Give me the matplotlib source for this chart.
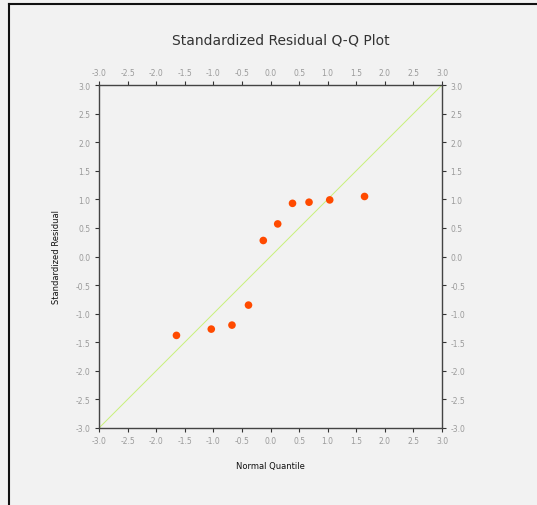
import matplotlib
matplotlib.use('Agg')
import matplotlib.pyplot as plt
from matplotlib.lines import Line2D

# --- data ---
normal_quantile = [-1.645, -1.036, -0.674, -0.385, -0.126, 0.126, 0.385, 0.674, 1.036, 1.645]
std_residual = [-1.38, -1.27, -1.20, -0.85, 0.28, 0.57, 0.93, 0.95, 0.99, 1.05]
ref_line = [-3.0, 3.0]
tick_values = [-3.0, -2.5, -2.0, -1.5, -1.0, -0.5, 0.0, 0.5, 1.0, 1.5, 2.0, 2.5, 3.0]

bg = '#f2f2f2'
fig = plt.figure(figsize=(5.37, 5.06), dpi=100, facecolor=bg)
ax = fig.add_axes([99 / 537, 1 - 429 / 506, 343 / 537, 343 / 506], facecolor=bg)

# reference diagonal and points
ax.plot(ref_line, ref_line, color='#c8f07a', lw=0.7, zorder=1)
ax.scatter(normal_quantile, std_residual, s=30, color='#ff4a00', zorder=3, edgecolors='none')

ax.set_xlim(-3, 3)
ax.set_ylim(-3, 3)
ax.set_xticks(tick_values)
ax.set_yticks(tick_values)
ax.set_xticklabels([f'{v:.1f}' for v in tick_values])
ax.set_yticklabels([f'{v:.1f}' for v in tick_values])

for s in ax.spines.values():
    s.set_color('#444444')
    s.set_linewidth(1.0)

ax.tick_params(axis='both', which='both', direction='out', length=3, width=0.8,
               color='#333333', labelsize=5.5, labelcolor='#9a9a9a',
               top=True, right=True, labeltop=True, labelright=True, pad=3)

ax.set_xlabel('Normal Quantile', fontsize=6, color='#111111')
ax.set_ylabel('Standardized Residual', fontsize=6, color='#111111')
ax.xaxis.set_label_coords(0.5, (429 - 462) / 343)
ax.yaxis.set_label_coords((61 - 99) / 343, 0.5)

fig.text(281 / 537, 1 - 40 / 506, 'Standardized Residual Q-Q Plot',
         ha='center', va='center', fontsize=10, color='#333333')

# frame lines along top and left of the figure
fig.add_artist(Line2D([9 / 537, 1.0], [1 - 5 / 506, 1 - 5 / 506], color='#111111', lw=1.5,
                      transform=fig.transFigure))
fig.add_artist(Line2D([9 / 537, 9 / 537], [0.0, 1 - 5 / 506], color='#111111', lw=1.5,
                      transform=fig.transFigure))

fig.savefig('out.png', dpi=100, facecolor=bg)
